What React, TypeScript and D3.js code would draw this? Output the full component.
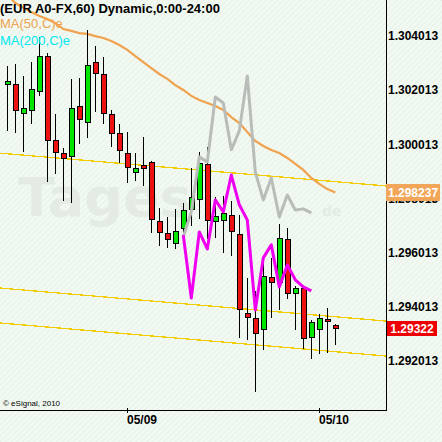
import React from 'react';
import * as d3 from 'd3';

const W = 442;
const H = 442;

// Hourly EUR A0-FX candles
const opens = [1.30224, 1.30224, 1.30117, 1.30128, 1.30198, 1.30327, 1.30017, 1.29970, 1.29958, 1.30143, 1.30084, 1.30305, 1.30261, 1.30113, 1.30043, 1.29970, 1.29899, 1.29925, 1.29936, 1.29719, 1.29674, 1.29637, 1.29693, 1.29763, 1.29800, 1.29929, 1.29719, 1.29722, 1.29741, 1.29671, 1.29379, 1.29361, 1.29320, 1.29512, 1.29493, 1.29652, 1.29453, 1.29471, 1.29291, 1.29320, 1.29357, 1.29335];
const highs = [1.30294, 1.30302, 1.30257, 1.30309, 1.30401, 1.30342, 1.30117, 1.29992, 1.30246, 1.30250, 1.30427, 1.30368, 1.30327, 1.30132, 1.30080, 1.30051, 1.29973, 1.30032, 1.29944, 1.29770, 1.29737, 1.29767, 1.29789, 1.29918, 1.29977, 1.29995, 1.29811, 1.29815, 1.29796, 1.29744, 1.29512, 1.29464, 1.29582, 1.29586, 1.29711, 1.29696, 1.29482, 1.29479, 1.29357, 1.29379, 1.29401, 1.29342];
const lows = [1.30054, 1.30047, 1.29977, 1.30080, 1.30184, 1.29866, 1.29896, 1.29796, 1.29789, 1.30007, 1.30028, 1.30124, 1.30080, 1.29995, 1.29936, 1.29863, 1.29870, 1.29851, 1.29678, 1.29630, 1.29623, 1.29619, 1.29634, 1.29704, 1.29730, 1.29656, 1.29660, 1.29604, 1.29593, 1.29291, 1.29283, 1.29091, 1.29246, 1.29364, 1.29394, 1.29434, 1.29320, 1.29250, 1.29213, 1.29232, 1.29235, 1.29265];
const closes = [1.30235, 1.30128, 1.30136, 1.30206, 1.30327, 1.30017, 1.29973, 1.29951, 1.30136, 1.30095, 1.30294, 1.30265, 1.30117, 1.30043, 1.29981, 1.29918, 1.29914, 1.29914, 1.29726, 1.29678, 1.29652, 1.29682, 1.29759, 1.29807, 1.29933, 1.29722, 1.29737, 1.29748, 1.29682, 1.29394, 1.29364, 1.29305, 1.29516, 1.29493, 1.29656, 1.29453, 1.29471, 1.29287, 1.29346, 1.29361, 1.29350, 1.29322];

// MA(50,C)
const ma50 = [1.30553, 1.30523, 1.30505, 1.30490, 1.30475, 1.30464, 1.30449, 1.30427, 1.30420, 1.30412, 1.30409, 1.30401, 1.30394, 1.30383, 1.30368, 1.30350, 1.30327, 1.30305, 1.30283, 1.30261, 1.30243, 1.30220, 1.30202, 1.30180, 1.30165, 1.30154, 1.30143, 1.30128, 1.30102, 1.30080, 1.30047, 1.30014, 1.29995, 1.29980, 1.29969, 1.29951, 1.29929, 1.29907, 1.29877, 1.29855, 1.29836, 1.298237];

// Pattern study lines, starting at candle index 22
const studyStart = 22;
const grayLine = [1.29660, 1.29752, 1.29955, 1.29936, 1.30176, 1.30154, 1.29981, 1.30051, 1.30254, 1.29899, 1.29796, 1.29877, 1.29733, 1.29814, 1.29759, 1.29763, 1.29748];
const magentaLine = [1.29666, 1.29434, 1.29678, 1.29615, 1.29796, 1.29752, 1.29888, 1.29778, 1.29722, 1.29390, 1.29582, 1.29630, 1.29475, 1.29556, 1.29501, 1.29475, 1.29460];

// Channel lines: [startIndex, startPrice, endIndex, endPrice]
const channelUpper = [-1, 1.29969, 48, 1.29846];
const channelMid = [-1, 1.29471, 48, 1.29347];
const channelLow = [-1, 1.29342, 48, 1.29218];

const yTicks = [1.292013, 1.294013, 1.296013, 1.298013, 1.300013, 1.302013, 1.304013];
const xTickIndex = [15, 39];
const xTickLabels = ['05/09', '05/10'];
const lastMA = 1.298237;
const lastClose = 1.29322;

const FONT = '"Liberation Sans", Arial, sans-serif';

export default function App() {
  const plotRight = 386;
  const plotBottom = 410;
  const x = d3.scaleLinear().domain([0, 41]).range([7.3, 335.3]);
  const y = d3.scaleLinear().domain([1.290204, 1.305342]).range([plotBottom, 0]);

  const px = (i: number) => Math.round(x(i)) + 0.5;
  const py = (v: number) => Math.round(y(v)) + 0.5;

  const maLine = d3.line<number>().x((_, i) => x(i)).y((d) => y(d))(ma50) || '';
  const studyGen = d3.line<number>().x((_, i) => x(i + studyStart)).y((d) => y(d));
  const grayPath = studyGen(grayLine) || '';
  const magPath = studyGen(magentaLine) || '';

  const channels = [channelUpper, channelMid, channelLow];

  return (
    <svg width={W} height={H} style={{ position: 'absolute', left: 0, top: 0 }} fontFamily={FONT}>
      <defs>
        <pattern id="hatch" width="4" height="4" patternUnits="userSpaceOnUse" patternTransform="rotate(45)">
          <rect width="4" height="4" fill="#f2f9f2" />
          <line x1="0" y1="0" x2="0" y2="4" stroke="#e4f0e4" strokeWidth="1.5" />
        </pattern>
        <clipPath id="plot">
          <rect x={0} y={0} width={plotRight} height={plotBottom} />
        </clipPath>
      </defs>
      <rect x={0} y={0} width={W} height={H} fill="url(#hatch)" />

      {/* watermark */}
      <text x={18} y={216} fontSize={54} fontWeight="bold" fill="#e3ebe3" fontFamily='"DejaVu Sans", sans-serif'>Tages</text>
      <text x={322} y={216} fontSize={14} fontWeight="bold" fill="#e3ebe3" fontFamily='"DejaVu Sans", sans-serif'>de</text>

      <g clipPath="url(#plot)">
        {channels.map((c, k) => (
          <line key={k} x1={x(c[0])} y1={y(c[1])} x2={x(c[2])} y2={y(c[3])} stroke="#f0cc00" strokeWidth={1.3} shapeRendering="crispEdges" />
        ))}
        <path d={maLine} fill="none" stroke="#f0a24e" strokeWidth={2.2} />
      </g>

      {/* candles */}
      <g>
        {opens.map((o, i) => {
          const c = closes[i];
          const up = c >= o;
          const cx = px(i);
          const top = Math.round(y(Math.max(o, c)));
          const bot = Math.round(y(Math.min(o, c)));
          const hgt = Math.max(bot - top, 2);
          return (
            <g key={i}>
              <line x1={cx} x2={cx} y1={py(highs[i])} y2={py(lows[i])} stroke="#000" strokeWidth={1} shapeRendering="crispEdges" />
              <rect x={cx - 2.5} y={top + 0.5} width={5} height={hgt} fill={up ? '#00e600' : '#ee1111'} stroke="#000" strokeWidth={1} shapeRendering="crispEdges" />
            </g>
          );
        })}
      </g>

      <g clipPath="url(#plot)">
        <path d={grayPath} fill="none" stroke="#b9bdb9" strokeWidth={3} strokeLinejoin="round" />
        <path d={magPath} fill="none" stroke="#f000f0" strokeWidth={3} strokeLinejoin="round" />
      </g>

      {/* axes */}
      <line x1={plotRight + 0.5} x2={plotRight + 0.5} y1={0} y2={plotBottom + 1} stroke="#000" strokeWidth={1} />
      <line x1={0} x2={plotRight + 1} y1={plotBottom + 0.5} y2={plotBottom + 0.5} stroke="#000" strokeWidth={1} />

      {yTicks.map((t) => (
        <text key={t} x={388} y={y(t)} dy="0.36em" fontSize={12} fontWeight="bold" fill="#000">{t.toFixed(6)}</text>
      ))}

      {xTickIndex.map((idx, k) => (
        <g key={idx}>
          <line x1={px(idx)} x2={px(idx)} y1={plotBottom - 2} y2={plotBottom + 3} stroke="#000" strokeWidth={1} />
          <text x={Math.round(x(idx))} y={424} fontSize={12} fontWeight="bold" fill="#000">{xTickLabels[k]}</text>
        </g>
      ))}

      {/* last value labels */}
      <rect x={plotRight} y={Math.round(y(lastMA)) - 8} width={54} height={17} fill="#f2a65a" />
      <text x={388} y={y(lastMA)} dy="0.36em" fontSize={12} fontWeight="bold" fill="#fff">{lastMA.toFixed(6)}</text>
      <rect x={plotRight + 1} y={Math.round(y(lastClose)) - 7} width={50} height={15} fill="#ee0000" />
      <text x={plotRight + 26} y={y(lastClose)} dy="0.36em" fontSize={12} fontWeight="bold" fill="#fff" textAnchor="middle">{lastClose.toFixed(5)}</text>

      {/* titles */}
      <text x={0} y={13} fontSize={13} fontWeight="bold" fill="#000">(EUR A0-FX,60) Dynamic,0:00-24:00</text>
      <text x={0} y={28} fontSize={13} fill="#f0a24e">MA(50,C)e</text>
      <text x={0} y={45} fontSize={13} fill="#00e8f0">MA(200,C)e</text>
      <text x={3} y={406} fontSize={8} fill="#000">© eSignal, 2010</text>
    </svg>
  );
}
